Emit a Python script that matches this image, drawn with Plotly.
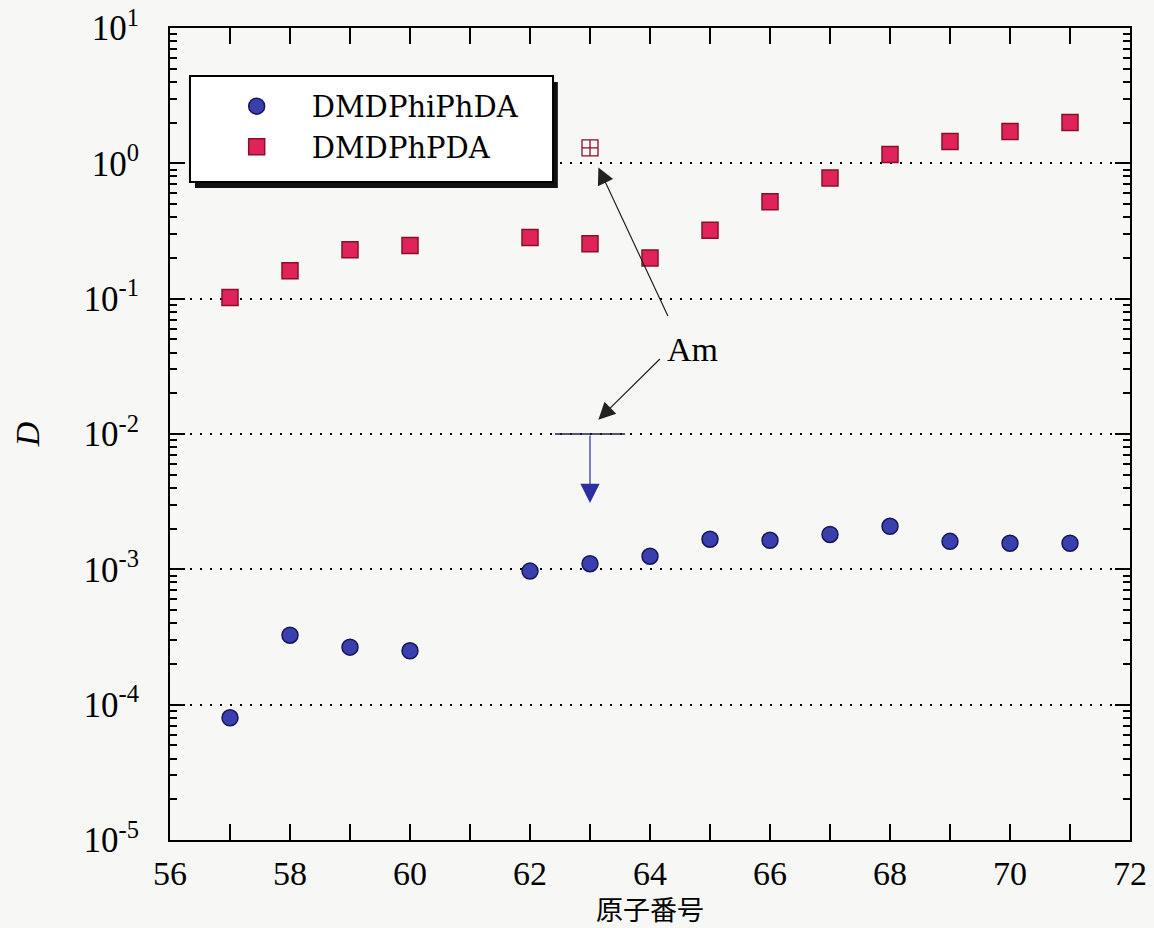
import plotly.graph_objects as go

# ---- data ----
atomic_number = [57, 58, 59, 60, 62, 63, 64, 65, 66, 67, 68, 69, 70, 71]
d_dmdphiphda = [8.0e-5, 3.26e-4, 2.66e-4, 2.5e-4, 0.97e-3, 1.1e-3, 1.25e-3,
                1.67e-3, 1.64e-3, 1.81e-3, 2.08e-3, 1.61e-3, 1.56e-3, 1.56e-3]
d_dmdphpda = [0.102, 0.161, 0.23, 0.247, 0.283, 0.255, 0.20,
              0.32, 0.52, 0.78, 1.16, 1.45, 1.72, 2.0]
am_x = [63]
am_dmdphpda = [1.3]
am_dmdphiphda_limit = [1e-2]

x_tickvals = list(range(56, 73))
x_ticktext = [str(v) if v % 2 == 0 else "" for v in x_tickvals]
y_tickvals = [1e-5, 1e-4, 1e-3, 1e-2, 1e-1, 1, 10]
y_ticktext = ["10<sup>-5</sup>", "10<sup>-4</sup>", "10<sup>-3</sup>", "10<sup>-2</sup>",
              "10<sup>-1</sup>", "10<sup>0</sup>", "10<sup>1</sup>"]

navy_fill = "#3a3fae"
navy_line = "#15175a"
red_fill = "#e0245a"
red_line = "#8a0f2a"
bg = "#f7f7f5"
serif = "Liberation Serif"

fig = go.Figure()
fig.add_trace(go.Scatter(
    x=atomic_number, y=d_dmdphiphda, mode="markers", name="DMDPhiPhDA",
    legendgroup="a",
    marker=dict(symbol="circle", size=16, color=navy_fill, line=dict(color=navy_line, width=1.5))))
fig.add_trace(go.Scatter(
    x=atomic_number, y=d_dmdphpda, mode="markers", name="DMDPhPDA",
    legendgroup="b",
    marker=dict(symbol="square", size=16, color=red_fill, line=dict(color=red_line, width=1.5))))
fig.add_trace(go.Scatter(
    x=am_x, y=am_dmdphpda, mode="markers", showlegend=False,
    marker=dict(symbol="square-cross-open", size=16, color=red_line, line=dict(color=red_line, width=1.3))))
fig.add_trace(go.Scatter(
    x=am_x, y=am_dmdphiphda_limit, mode="markers", showlegend=False,
    marker=dict(symbol="line-ew", size=50, color=navy_line, line=dict(color="#222244", width=1.5))))

# annotations
fig.add_annotation(x=64.71, y=-1.376, xref="x", yref="y", text="Am", showarrow=False,
                   font=dict(family=serif, size=34, color="black"))
fig.add_annotation(x=63.14, y=-0.03, ax=64.31, ay=-1.139, xref="x", yref="y", axref="x", ayref="y",
                   text="", showarrow=True, arrowhead=2, arrowsize=2.8, arrowwidth=1.2, arrowcolor="#222222")
fig.add_annotation(x=63.14, y=-1.894, ax=64.19, ay=-1.435, xref="x", yref="y", axref="x", ayref="y",
                   text="", showarrow=True, arrowhead=2, arrowsize=2.8, arrowwidth=1.2, arrowcolor="#222222")
fig.add_annotation(x=63, y=-2.51, ax=63, ay=-2.0, xref="x", yref="y", axref="x", ayref="y",
                   text="", showarrow=True, arrowhead=2, arrowsize=3.2, arrowwidth=1.2, arrowcolor="#2b2f9f")

# legend box with shadow
fig.add_shape(type="rect", xref="paper", yref="paper", x0=0.026, x1=0.404, y0=0.803, y1=0.9335,
              fillcolor="#111111", line=dict(width=0), layer="above")
fig.add_shape(type="rect", xref="paper", yref="paper", x0=0.0208, x1=0.399, y0=0.8103, y1=0.9409,
              fillcolor="white", line=dict(color="black", width=2), layer="above")

fig.update_layout(
    width=1154, height=928,
    margin=dict(l=170, r=24, t=28, b=88, autoexpand=False),
    paper_bgcolor=bg, plot_bgcolor=bg,
    font=dict(family=serif, color="black"),
    showlegend=True,
    legend=dict(x=0.033, y=0.935, xanchor="left", yanchor="top", bgcolor="rgba(0,0,0,0)",
                borderwidth=0, itemwidth=100, tracegroupgap=0,
                font=dict(family="DejaVu Serif", size=29)),
)

fig.update_xaxes(
    range=[56, 72], tickmode="array", tickvals=x_tickvals, ticktext=x_ticktext,
    ticks="inside", ticklen=16, tickwidth=1.5, tickcolor="black",
    showline=True, linecolor="black", linewidth=2, mirror="ticks",
    showgrid=False, zeroline=False, automargin=False,
    tickfont=dict(family=serif, size=34), ticklabelstandoff=2,
    title=dict(text="原子番号", font=dict(family="Noto Sans CJK JP", size=27), standoff=6),
)
fig.update_yaxes(
    type="log", range=[-5, 1], tickmode="array", tickvals=y_tickvals, ticktext=y_ticktext,
    ticks="inside", ticklen=15, tickwidth=1.5, tickcolor="black",
    minor=dict(ticks="inside", ticklen=7, tickwidth=1.5, tickcolor="black", dtick="D1", showgrid=False),
    showline=True, linecolor="black", linewidth=2, mirror="ticks",
    showgrid=True, gridcolor="black", gridwidth=2, griddash="2px,8px",
    zeroline=False, automargin=False,
    tickfont=dict(family=serif, size=35), ticklabelstandoff=22,
    title=dict(text="<i>D</i>", font=dict(family=serif, size=34), standoff=34),
)

fig.write_html("out.html")
